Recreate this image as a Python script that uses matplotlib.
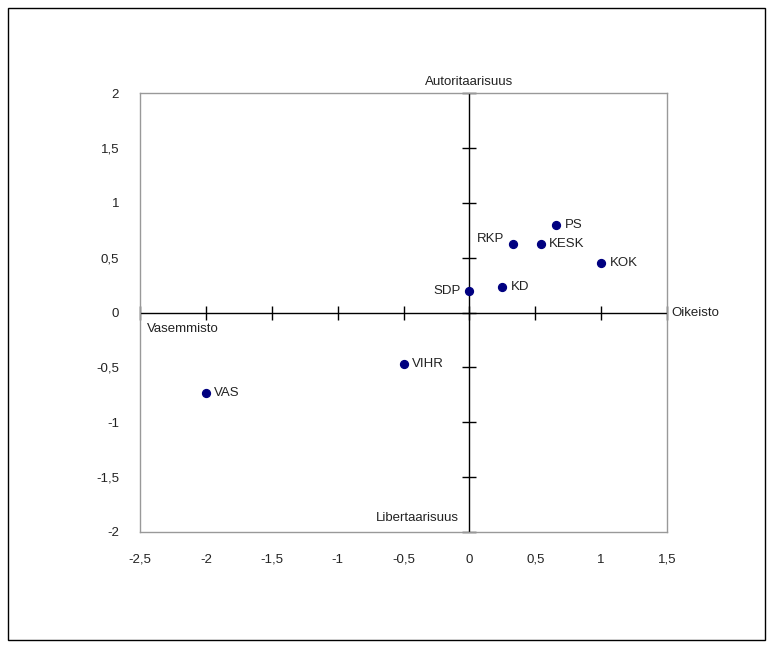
import matplotlib.pyplot as plt
from matplotlib.patches import Rectangle

plt.rcParams['font.family'] = ['Liberation Sans', 'DejaVu Sans']

# Party positions: economic left-right (x) vs. authoritarian-libertarian (y)
parties = ['VAS', 'VIHR', 'SDP', 'KD', 'RKP', 'KESK', 'PS', 'KOK']
x_vals = [-2.0, -0.5, 0.0, 0.25, 0.33, 0.54, 0.66, 1.0]
y_vals = [-0.73, -0.47, 0.2, 0.23, 0.62, 0.62, 0.8, 0.45]

x_ticks = [-2.5, -2, -1.5, -1, -0.5, 0, 0.5, 1, 1.5]
y_ticks = [-2, -1.5, -1, -0.5, 0, 0.5, 1, 1.5, 2]


def fmt(v):
    s = ('%g' % v).replace('.', ',')
    return s


fig = plt.figure(figsize=(7.73, 6.48), dpi=100)
fig.patches.append(Rectangle((8 / 773, 8 / 648), 757 / 773, 632 / 648,
                             transform=fig.transFigure, fill=False,
                             edgecolor='black', linewidth=1))

ax = fig.add_axes([140 / 773, 1 - 532 / 648, 527 / 773, 439 / 648])
ax.set_xlim(-2.5, 1.5)
ax.set_ylim(-2, 2)
for sp in ax.spines.values():
    sp.set_color('#999999')
    sp.set_linewidth(1)

ax.set_xticks(x_ticks)
ax.set_yticks(y_ticks)
ax.set_xticklabels([fmt(v) for v in x_ticks])
ax.set_yticklabels([fmt(v) for v in y_ticks])
ax.tick_params(length=0, labelsize=9.5, colors='#222222')
ax.tick_params(axis='x', pad=22)
ax.tick_params(axis='y', pad=15)
for lbl in ax.get_xticklabels():
    lbl.set_va('baseline')

# cross axes through the origin with tick marks
ax.axhline(0, color='black', linewidth=1)
ax.axvline(0, color='black', linewidth=1)
ax.plot(x_ticks, [0] * len(x_ticks), linestyle='none', marker='|',
        markersize=10, color='black', markeredgewidth=1, clip_on=False)
ax.plot([0] * len(y_ticks), y_ticks, linestyle='none', marker='_',
        markersize=10, color='black', markeredgewidth=1, clip_on=False)

ax.scatter(x_vals, y_vals, s=32, color='#000080', zorder=3)

left_labels = {'SDP', 'RKP'}
for name, xv, yv in zip(parties, x_vals, y_vals):
    if name in left_labels:
        dy = 4 if name == 'RKP' else 0
        ax.annotate(name, (xv, yv), xytext=(-6, dy), textcoords='offset points',
                    ha='right', va='center', fontsize=9.5, color='#222222')
    else:
        ax.annotate(name, (xv, yv), xytext=(6, 0), textcoords='offset points',
                    ha='left', va='center', fontsize=9.5, color='#222222')

ax.text(0, 2.05, 'Autoritaarisuus', ha='center', va='bottom', fontsize=9.5, color='#222222')
ax.text(-0.08, -1.93, 'Libertaarisuus', ha='right', va='bottom', fontsize=9.5, color='#222222')
ax.text(-2.45, -0.1, 'Vasemmisto', ha='left', va='top', fontsize=9.5, color='#222222')
ax.text(1.53, 0, 'Oikeisto', ha='left', va='center', fontsize=9.5, color='#222222')

plt.savefig('out.png', dpi=100)
